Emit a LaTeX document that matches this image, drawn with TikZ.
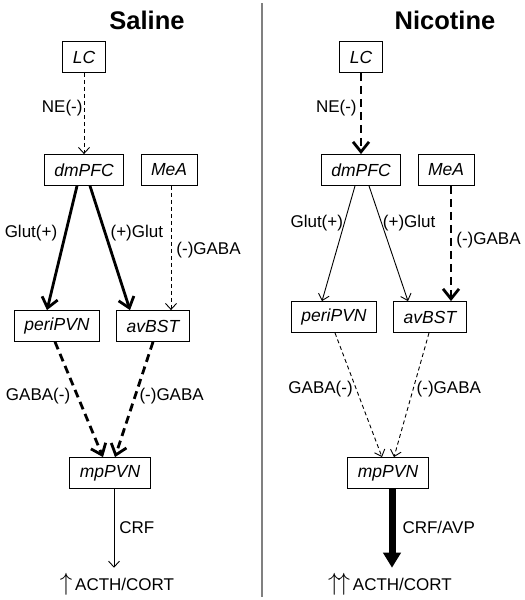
\documentclass[tikz,border=0pt]{standalone}
\usepackage{fontspec}
\setmainfont{Liberation Sans}
\usetikzlibrary{arrows.meta}

\newcommand{\upmark}{{\fontsize{24}{24}\selectfont$\uparrow$}}

\begin{document}
\begin{tikzpicture}[x=1pt,y=-1pt,
    box/.style={draw,line width=0.8pt,minimum height=31pt,inner xsep=10pt,inner ysep=0pt,font=\fontsize{17.5}{20}\selectfont\itshape},
    lbl/.style={font=\fontsize{17}{20}\selectfont,inner sep=1pt},
    ttl/.style={font=\fontsize{25.5}{28}\selectfont\bfseries},
    weak/.style={line width=0.9pt,-{Straight Barb[length=6pt,width=11pt]}},
    weakdash/.style={weak,dash pattern=on 4pt off 3pt},
    strong/.style={line width=2.8pt,-{Straight Barb[length=10pt,width=16pt]}},
    strongdash/.style={strong,dash pattern=on 8pt off 5pt},
    heavy/.style={line width=7pt,-{Triangle[length=15pt,width=17pt]}}]
    \useasboundingbox (0,0) rectangle (525,600);
    \draw[gray,line width=1.5pt] (262,3) -- (262,597);

    % saline
    \node[ttl] (ttlS) at (147,20) {Saline};
    \node[box] (lcS) at (84,57) {LC};
    \node[box] (pfcS) at (84,170) {dmPFC};
    \node[box] (meaS) at (169,170) {MeA};
    \node[box] (periS) at (57,326) {periPVN};
    \node[box] (bstS) at (153,326) {avBST};
    \node[box] (mpS) at (110,473) {mpPVN};
    \node[lbl] (outS) at (117,584) {\upmark\,ACTH/CORT};
    \draw[weakdash] (lcS) -- (pfcS) node[lbl,pos=.43,left] {NE(-)};
    \draw[strong] ([xshift=-7pt]pfcS.south) -- ([xshift=-10pt]periS.north) node[lbl,pos=.38,left=6pt] {Glut(+)};
    \draw[strong] ([xshift=6pt]pfcS.south) -- ([xshift=-23pt]bstS.north) node[lbl,pos=.38,right=3pt] {(+)Glut};
    \draw[weakdash] ([xshift=2pt]meaS.south) -- ([xshift=18pt]bstS.north) node[lbl,pos=.52,right=4pt] {(-)GABA};
    \draw[strongdash] ([xshift=-2pt]periS.south) -- ([xshift=-7pt]mpS.north) node[lbl,pos=.47,left=5pt] {GABA(-)};
    \draw[strongdash] (bstS.south) -- ([xshift=5pt]mpS.north) node[lbl,pos=.47,right=2pt] {(-)GABA};
    \draw[weak,shorten >=4pt] ([xshift=4pt]mpS.south) -- ([xshift=4pt]mpS.south |- outS.north) node[lbl,pos=.47,right=4pt] {CRF};

    % nicotine
    \node[ttl] (ttlN) at (445,20) {Nicotine};
    \node[box] (lcN) at (361,57) {LC};
    \node[box] (pfcN) at (361,170) {dmPFC};
    \node[box] (meaN) at (446,170) {MeA};
    \node[box] (periN) at (334,317) {periPVN};
    \node[box] (bstN) at (430,317) {avBST};
    \node[box] (mpN) at (388,473) {mpPVN};
    \node[lbl] (outN) at (390,584) {\upmark\kern-3pt\upmark\,ACTH/CORT};
    \draw[strongdash] (lcN) -- (pfcN) node[lbl,pos=.43,left=2pt] {NE(-)};
    \draw[weak] ([xshift=-6pt]pfcN.south) -- ([xshift=-12pt]periN.north) node[lbl,pos=.32,left] {Glut(+)};
    \draw[weak] ([xshift=8pt]pfcN.south) -- ([xshift=-22pt]bstN.north) node[lbl,pos=.32,right] {(+)Glut};
    \draw[strongdash] ([xshift=5pt]meaN.south) -- ([xshift=21pt]bstN.north) node[lbl,pos=.47,right=3pt] {(-)GABA};
    \draw[weakdash] ([xshift=1pt]periN.south) -- ([xshift=-6pt]mpN.north) node[lbl,pos=.45,left=2pt] {GABA(-)};
    \draw[weakdash] ([xshift=-1pt]bstN.south) -- ([xshift=6pt]mpN.north) node[lbl,pos=.45,right=2pt] {(-)GABA};
    \draw[heavy,shorten >=4pt] ([xshift=4pt]mpN.south) -- ([xshift=4pt]mpN.south |- outN.north) node[lbl,pos=.47,right=6pt] {CRF/AVP};
\end{tikzpicture}
\end{document}
